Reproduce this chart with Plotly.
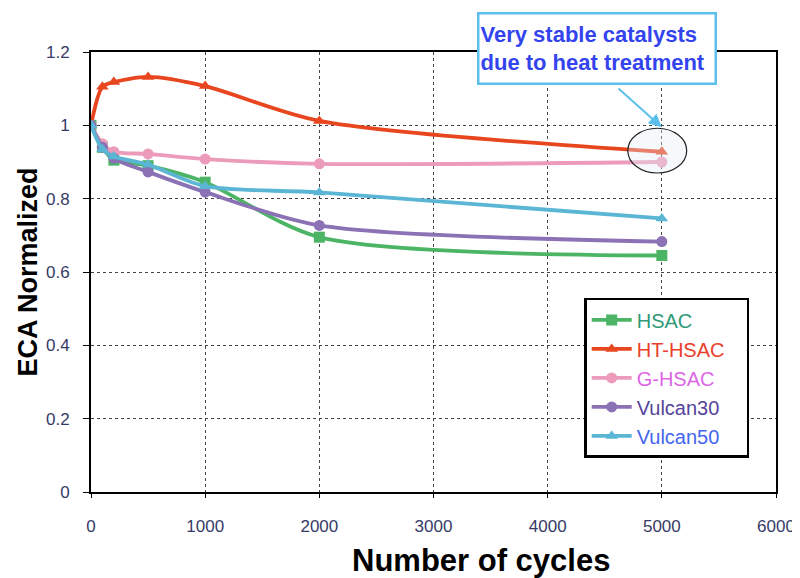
import plotly.graph_objects as go

cycles = [0, 100, 200, 500, 1000, 2000, 5000]
hsac = [1.0, 0.94, 0.905, 0.89, 0.845, 0.695, 0.645]
ht_hsac = [1.0, 1.105, 1.118, 1.132, 1.107, 1.012, 0.928]
g_hsac = [1.0, 0.95, 0.928, 0.922, 0.908, 0.895, 0.9]
vulcan30 = [1.0, 0.94, 0.91, 0.873, 0.818, 0.727, 0.683]
vulcan50 = [1.0, 0.935, 0.915, 0.893, 0.834, 0.817, 0.746]

series = [
    ("HSAC", hsac, "#4bb565", "square", "#2e9a78"),
    ("HT-HSAC", ht_hsac, "#e8461f", "triangle-up", "#e8402a"),
    ("G-HSAC", g_hsac, "#ec9cba", "circle", "#dd66e6"),
    ("Vulcan30", vulcan30, "#8a72b4", "circle", "#55449a"),
    ("Vulcan50", vulcan50, "#5ab6d4", "triangle-up", "#4466ee"),
]

fig = go.Figure()
for i, (name, ys, col, sym, tcol) in enumerate(series):
    fig.add_trace(go.Scatter(
        x=cycles, y=ys, mode="lines+markers",
        name=f"<span style='color:{tcol}'>{name}</span>&nbsp;&nbsp;&nbsp;",
        legendgroup=f"g{i}",
        line=dict(color=col, width=3.8, shape="spline", smoothing=0.8),
        marker=dict(color=col, symbol=sym, size=11),
    ))

# highlight ellipse around the last point of HT-HSAC
cx = cycles[-1] - 40
cy = ht_hsac[-1] + 0.003
fig.add_shape(type="circle", xref="x", yref="y",
              x0=cx - 258, x1=cx + 258, y0=cy - 0.061, y1=cy + 0.061,
              line=dict(color="#222222", width=1.2),
              fillcolor="rgba(225,238,245,0.35)")

# callout text box
fig.add_annotation(xref="paper", yref="paper", x=0.738, y=1.007,
                   xanchor="center", yanchor="middle",
                   text="Very stable catalysts<br>due to heat treatment",
                   showarrow=False, align="left",
                   font=dict(family="Liberation Sans, Arial", size=22, color="#3344ee", weight="bold"),
                   bgcolor="white", bordercolor="#5bc0ec", borderwidth=2.5,
                   width=233, height=66, borderpad=1)
# callout arrow
fig.add_annotation(xref="x", yref="y", x=cycles[-1], y=0.995,
                   axref="x", ayref="y", ax=4607, ay=1.104,
                   text="", showarrow=True, arrowhead=2, arrowsize=1.3,
                   arrowwidth=2, arrowcolor="#5bc0ec")

# x-axis title (placed right of centre as in the original)
fig.add_annotation(xref="paper", yref="paper", x=0.569, y=-0.155,
                   xanchor="center", yanchor="middle", showarrow=False,
                   text="<b>Number of cycles</b>",
                   font=dict(family="Liberation Sans, Arial", size=31, color="black"))

tickfont = dict(family="Liberation Sans, Arial", size=17, color="#363a66")
fig.update_xaxes(range=[0, 6000], dtick=1000, tick0=0, automargin=False,
                 showgrid=True, gridcolor="#444444", griddash="dot", gridwidth=1,
                 showline=True, linecolor="black", linewidth=2, mirror=True,
                 ticks="outside", ticklen=4, tickcolor="black",
                 ticklabelstandoff=14,
                 tickfont=tickfont, zeroline=False)
fig.update_yaxes(range=[0, 1.2], dtick=0.2, tick0=0, automargin=False,
                 showgrid=True, gridcolor="#444444", griddash="dot", gridwidth=1,
                 showline=True, linecolor="black", linewidth=2, mirror=True,
                 ticks="outside", ticklen=6, tickcolor="black",
                 ticklabelstandoff=10,
                 tickfont=tickfont, zeroline=False,
                 title=dict(text="<b>ECA Normalized</b>",
                            font=dict(family="Liberation Sans, Arial", size=27, color="black"),
                            standoff=1))

fig.update_layout(
    width=800, height=578,
    margin=dict(l=83, r=32, t=44, b=94),
    plot_bgcolor="white", paper_bgcolor="white",
    showlegend=True,
    legend=dict(x=0.72, y=0.441, xanchor="left", yanchor="top",
                bordercolor="black", borderwidth=2.5, bgcolor="white",
                font=dict(family="Liberation Sans, Arial", size=20),
                traceorder="grouped", tracegroupgap=0,
                itemwidth=40),
)

fig.write_html("out.html")
